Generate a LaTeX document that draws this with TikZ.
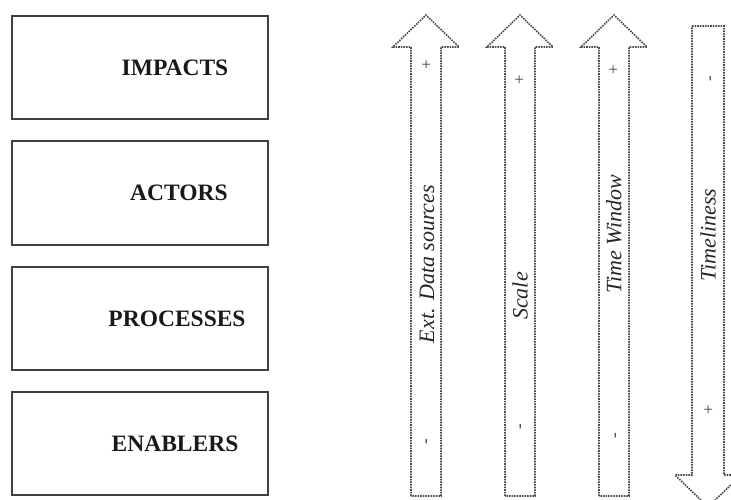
\documentclass[tikz,border=0pt]{standalone}
\usepackage{fontspec}
\setmainfont{Liberation Serif}
\begin{document}
\begin{tikzpicture}[x=1pt,y=-1pt,
  layerbox/.style={draw=black!75, line width=1.7pt},
  layertext/.style={font=\fontsize{23.5}{25}\selectfont\bfseries, text=black!90},
  dimarrow/.style={draw=black!70, line width=1.6pt, densely dotted, line join=miter},
  dimlabel/.style={font=\fontsize{22}{24}\selectfont\itshape, text=black!85, rotate=90},
  signmark/.style={font=\fontsize{17}{18}\selectfont, text=black!75, rotate=90}]
\useasboundingbox (0,0) rectangle (731,499);
% layer boxes
\draw[layerbox] (12,16) rectangle (268,119);
\draw[layerbox] (12,141) rectangle (268,245);
\draw[layerbox] (12,267) rectangle (268,370);
\draw[layerbox] (12,392) rectangle (268,495);
\node[layertext] (impacts) at (175,68) {IMPACTS};
\node[layertext] (actors) at (179,193) {ACTORS};
\node[layertext] (processes) at (177,319) {PROCESSES};
\node[layertext] (enablers) at (175,444) {ENABLERS};
% up arrows
\foreach \c in {426,520,614}{
  \draw[dimarrow] (\c-15,496) -- (\c-15,47) -- (\c-33,47) -- (\c,15) -- (\c+33,47) -- (\c+15,47) -- (\c+15,496) -- cycle;
}
% down arrow
\draw[dimarrow] (692,26) -- (724,26) -- (724,475) -- (741,475) -- (708,507) -- (675,475) -- (692,475) -- cycle;
% labels
\node[dimlabel] (lext) at (427,264) {Ext. Data sources};
\node[dimlabel] (lscale) at (520,296) {Scale};
\node[dimlabel] (ltw) at (614,234) {Time Window};
\node[dimlabel] (ltl) at (708,235) {Timeliness};
% signs
\node[signmark] (p1) at (427,65) {+};
\node[signmark] (m1) at (428,442) {-};
\node[signmark] (p2) at (520,80) {+};
\node[signmark] (m2) at (522,427) {-};
\node[signmark] (p3) at (614,70) {+};
\node[signmark] (m3) at (617,436) {-};
\node[signmark] (m4) at (712,79) {-};
\node[signmark] (p4) at (709,410) {+};
\end{tikzpicture}
\end{document}
